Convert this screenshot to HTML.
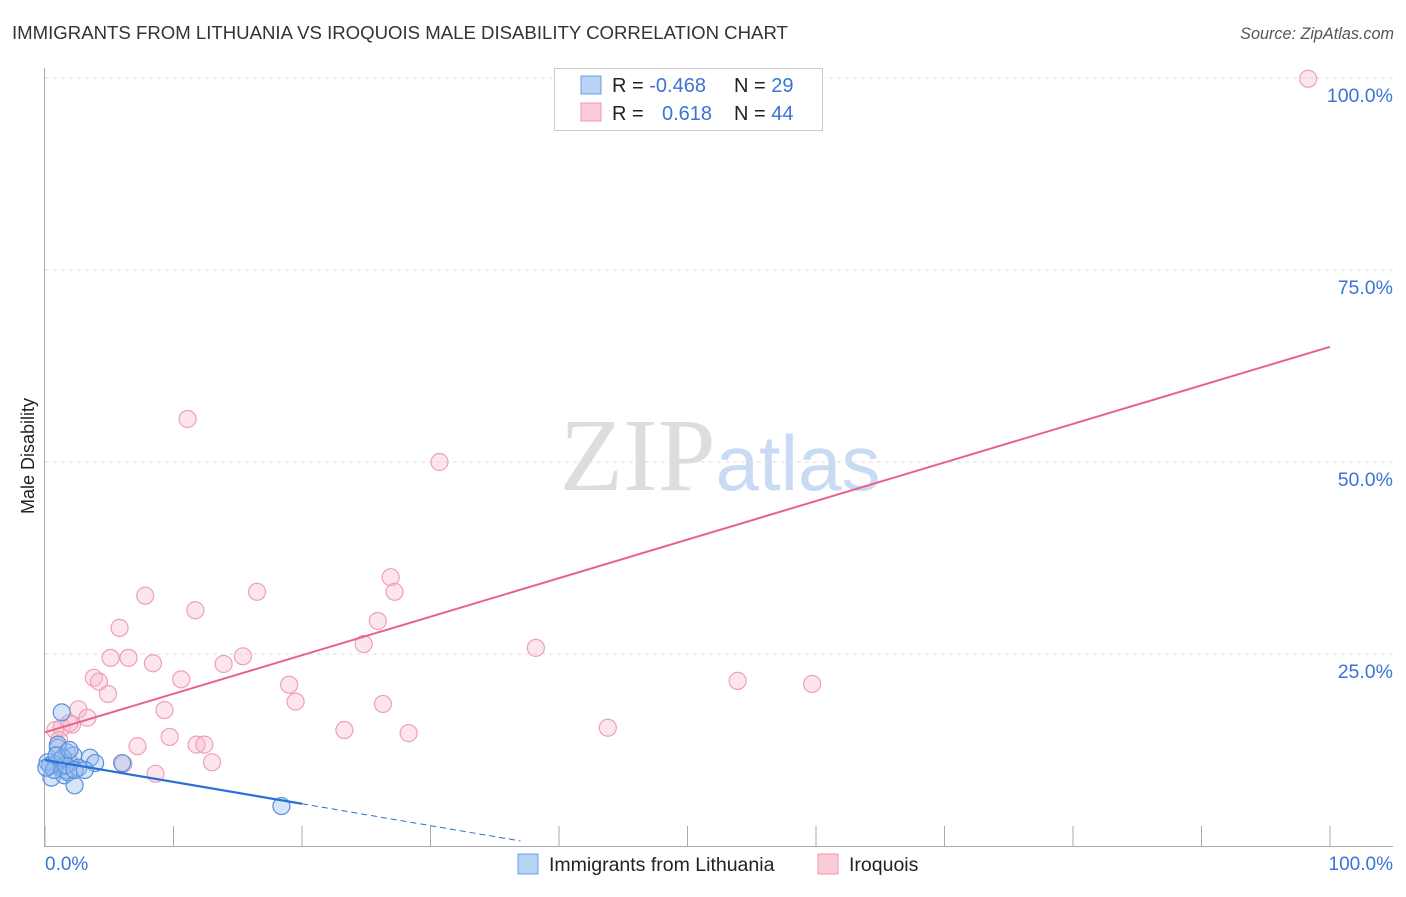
<!DOCTYPE html>
<html><head><meta charset="utf-8"><style>
body{margin:0;background:#fff;font-family:"Liberation Sans",sans-serif}
</style></head><body>
<svg width="1406" height="892" viewBox="0 0 1406 892" xmlns="http://www.w3.org/2000/svg" style="font-family:'Liberation Sans',sans-serif">
<text x="12" y="39" font-size="18.6" fill="#333">IMMIGRANTS FROM LITHUANIA VS IROQUOIS MALE DISABILITY CORRELATION CHART</text>
<text x="1394" y="39" font-size="16.2" fill="#555" text-anchor="end" font-style="italic">Source: ZipAtlas.com</text>
<text x="720" y="490" font-size="104" fill="#ddd" text-anchor="middle" font-family="Liberation Serif">ZIP<tspan fill="#c9dbf2" font-family="Liberation Sans" font-size="78">atlas</tspan></text>
<g id="grid"></g>
<g id="axes"></g>
<text transform="translate(34,456) rotate(-90)" font-size="18" fill="#222" text-anchor="middle">Male Disability</text>
<text x="45" y="870" font-size="19" fill="#3b73d6">0.0%</text>
<text x="1393" y="870" font-size="19" fill="#3b73d6" text-anchor="end">100.0%</text>
<g id="pts"></g>
<g id="lines"></g>
<g>
<rect x="554.5" y="68.5" width="268" height="62" fill="#fff" stroke="#ccc"/>
<rect x="581" y="76" width="20" height="18" fill="#b8d3f5" stroke="#6d9de0"/>
<rect x="581" y="103" width="20" height="18" fill="#fbcbd8" stroke="#ec9ab2"/>
<text x="612" y="92" font-size="20" fill="#222">R = <tspan fill="#3b73d6">-0.468</tspan><tspan x="734">N = </tspan><tspan fill="#3b73d6">29</tspan></text>
<text x="612" y="120" font-size="20" fill="#222">R = <tspan x="662" fill="#3b73d6">0.618</tspan><tspan x="734">N = </tspan><tspan fill="#3b73d6">44</tspan></text>
</g>
<g>
<rect x="518" y="854" width="20" height="20" fill="#b8d3f5" stroke="#6d9de0"/>
<text x="549" y="871" font-size="19.5" fill="#222">Immigrants from Lithuania</text>
<rect x="818" y="854" width="20" height="20" fill="#fbcbd8" stroke="#ec9ab2"/>
<text x="849" y="871" font-size="19.5" fill="#222">Iroquois</text>
</g>
</svg>
<script>
const blueX=[1.3,0.2,0.8,1.2,1.6,1.9,1.0,1.7,2.2,0.5,1.5,1.8,2.3,3.5,3.9,1.2,0.4,2.6,6.0,18.4,1.0,0.7,1.4,1.6,0.1,2.3,3.1,0.9,1.9];
const blueY=[17.4,10.9,10.5,10.2,9.9,10.9,12.8,12.2,11.8,8.9,9.2,9.6,7.9,11.5,10.8,11.2,10.5,10.2,10.8,5.2,13.2,9.9,11.5,10.5,10.2,9.9,9.9,11.8,12.5];
const pinkX=[98.3,11.1,30.7,26.9,27.2,16.5,7.8,11.7,25.9,5.8,24.8,38.2,5.1,6.5,15.4,8.4,13.9,3.8,4.2,10.6,19.0,4.9,19.5,53.9,59.7,9.3,2.6,26.3,3.3,0.8,1.3,2.1,1.9,23.3,28.3,43.8,9.7,11.8,12.4,7.2,1.1,13.0,8.6,6.1];
const pinkY=[99.9,55.6,50.0,35.0,33.1,33.1,32.6,30.7,29.3,28.4,26.3,25.8,24.5,24.5,24.7,23.8,23.7,21.9,21.4,21.7,21.0,19.8,18.8,21.5,21.1,17.7,17.8,18.5,16.7,15.1,15.4,15.8,16.0,15.1,14.7,15.4,14.2,13.2,13.2,13.0,13.8,10.9,9.4,10.7];
const yTicks=[25,50,75,100];
const yTickLabels=["25.0%","50.0%","75.0%","100.0%"];
const xTicks=[0,10,20,30,40,50,60,70,80,90,100];
const pinkTrend=[14.8,65.0];
const blueTrend=[11.2,-0.285];
const NS="http://www.w3.org/2000/svg";
const sx=v=>45+v*12.85, sy=v=>846-v*7.68;
function mk(tag,attrs,parent){const e=document.createElementNS(NS,tag);for(const k in attrs)e.setAttribute(k,attrs[k]);document.getElementById(parent).appendChild(e);return e;}
yTicks.forEach((t,i)=>{
 const l=mk('line',{x1:45,x2:1393,y1:sy(t),y2:sy(t),stroke:'#ddd','stroke-dasharray':'4,4'},'grid');
 
 
 const tx=mk('text',{x:1393,y:sy(t)+24,'font-size':19.5,fill:'#3b73d6','text-anchor':'end'},'grid');
 tx.textContent=yTickLabels[i];
 
 
});
const ya=mk('line',{x1:44.5,x2:44.5,y1:68,y2:846,stroke:'#aaa'},'axes');


const xa=mk('line',{x1:44,x2:1393,y1:846.5,y2:846.5,stroke:'#aaa'},'axes');


xTicks.forEach(t=>{
 const l=mk('line',{x1:sx(t),x2:sx(t),y1:826,y2:846,stroke:'#aaa'},'axes');
 
 
});
pinkX.forEach((x,i)=>{
 const c=mk('circle',{cx:sx(x),cy:sy(pinkY[i]),r:8.5,fill:'rgba(248,180,200,0.35)',stroke:'#eea0b8','stroke-width':1.2},'pts');
 
 
});
blueX.forEach((x,i)=>{
 const c=mk('circle',{cx:sx(x),cy:sy(blueY[i]),r:8.5,fill:'rgba(150,190,240,0.4)',stroke:'#5b8fdc','stroke-width':1.2},'pts');
 
 
});
const pl=mk('line',{x1:sx(0),y1:sy(pinkTrend[0]),x2:sx(100),y2:sy(pinkTrend[1]),stroke:'#e8628e','stroke-width':2},'lines');


const bl=mk('line',{x1:sx(0),y1:sy(blueTrend[0]),x2:sx(20),y2:sy(blueTrend[0]+blueTrend[1]*20),stroke:'#2a6fd6','stroke-width':2.2},'lines');


const bd=mk('line',{x1:sx(20),y1:sy(blueTrend[0]+blueTrend[1]*20),x2:sx(37),y2:sy(blueTrend[0]+blueTrend[1]*37),stroke:'#2a6fd6','stroke-width':1,'stroke-dasharray':'6,4'},'lines');


</script>
</body></html>
